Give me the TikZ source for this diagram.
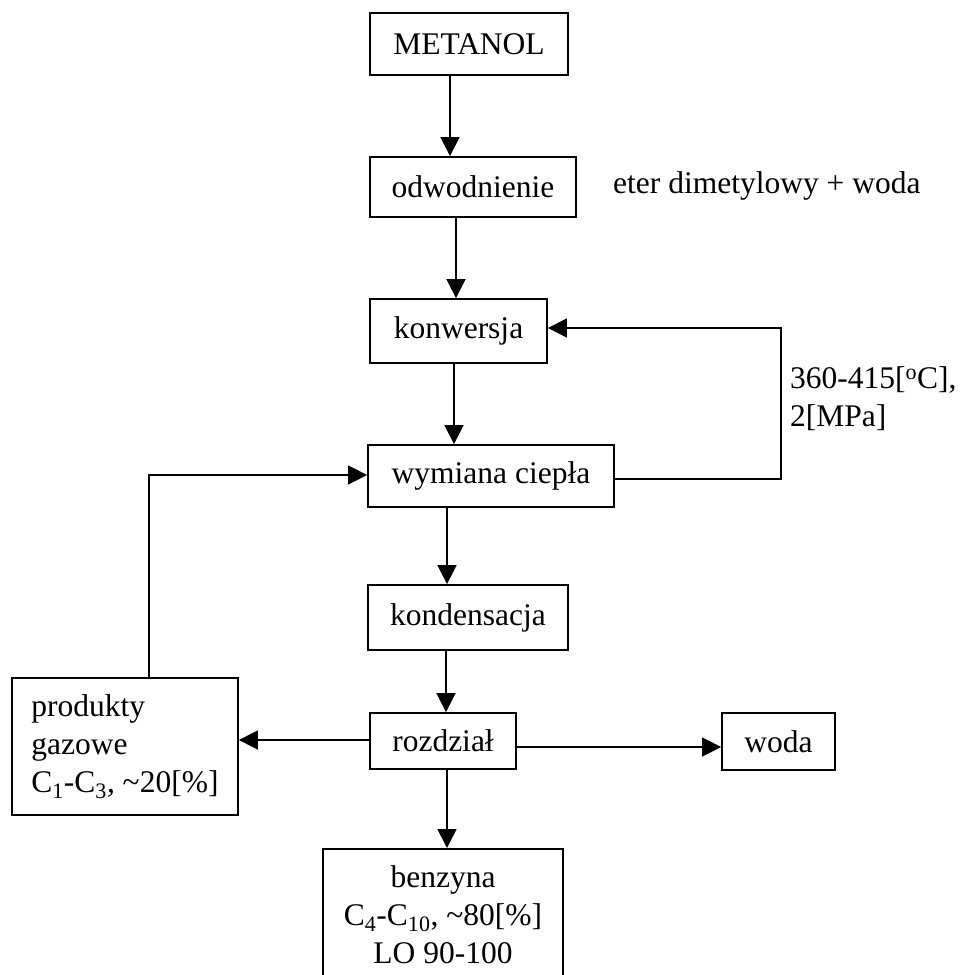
\documentclass[tikz,border=0pt]{standalone}
\usepackage{fontspec}
\setmainfont{Liberation Serif}
\usetikzlibrary{arrows.meta}
\begin{document}
\begin{tikzpicture}[x=1pt,y=-1pt,
  every node/.style={font=\fontsize{31.5pt}{38pt}\selectfont},
  box/.style={draw,line width=1.8pt,inner sep=0pt,align=center},
  lbl/.style={inner sep=0pt},
  arr/.style={line width=1.6pt,-{Triangle[length=19pt,width=19pt]}},
  link/.style={line width=1.6pt}]
\useasboundingbox (0,0) rectangle (962,975);
\clip (0,0) rectangle (962,975);

% process steps
\node[box,minimum width=198pt,minimum height=62pt] (metanol) at (469,44) {METANOL};
\node[box,minimum width=206pt,minimum height=60pt] (odwod) at (473,187) {odwodnienie};
\node[box,minimum width=177pt,minimum height=64pt] (konw) at (458.5,331) {konwersja};
\node[box,minimum width=246pt,minimum height=62pt] (wymiana) at (491,476) {wymiana ciepła};
\node[box,minimum width=200pt,minimum height=65pt] (kond) at (468,617.5) {kondensacja};
\node[box,minimum width=146pt,minimum height=56pt] (rozdz) at (443,741) {rozdział};
\node[box,minimum width=113pt,minimum height=57pt] (woda) at (778.5,741.5) {woda};
\node[box,align=left,minimum width=226pt,minimum height=137pt] (gaz) at (125,746.5)
  {produkty\\gazowe\\C\textsubscript{1}-C\textsubscript{3}, \textasciitilde20[\%]};
\node[box,anchor=north,minimum width=240pt,inner ysep=17pt] (benz) at (443,848)
  {benzyna\\C\textsubscript{4}-C\textsubscript{10}, \textasciitilde80[\%]\\LO 90-100};

% side labels
\node[lbl,anchor=base west] (eter) at (613,193) {eter dimetylowy + woda};
\node[lbl,anchor=north west,align=left] (warunki) at (790,366)
  {360-415[\textsuperscript{o}C],\\2[MPa]};

% main flow
\draw[arr] (metanol.south -| 450,0) -- (odwod.north -| 450,0);
\draw[arr] (odwod.south -| 456,0) -- (konw.north -| 456,0);
\draw[arr] (konw.south -| 454,0) -- (wymiana.north -| 454,0);
\draw[arr] (wymiana.south -| 447,0) -- (kond.north -| 447,0);
\draw[arr] (kond.south -| 446,0) -- (rozdz.north -| 446,0);
\draw[arr] (rozdz.south -| 447,0) -- (benz.north -| 447,0);
\draw[arr] (rozdz.west |- 0,740) -- (gaz.east |- 0,740);
\draw[arr] (rozdz.east |- 0,747) -- (woda.west |- 0,747);

% recycle loops
\coordinate (r1) at (781,479);
\coordinate (r2) at (781,328);
\draw[arr] (wymiana.east |- r1) -- (r1) -- (r2) -- (konw.east |- r2);
\coordinate (g1) at (149,475);
\draw[arr] (gaz.north -| g1) -- (g1) -- (wymiana.west |- g1);
\end{tikzpicture}
\end{document}
